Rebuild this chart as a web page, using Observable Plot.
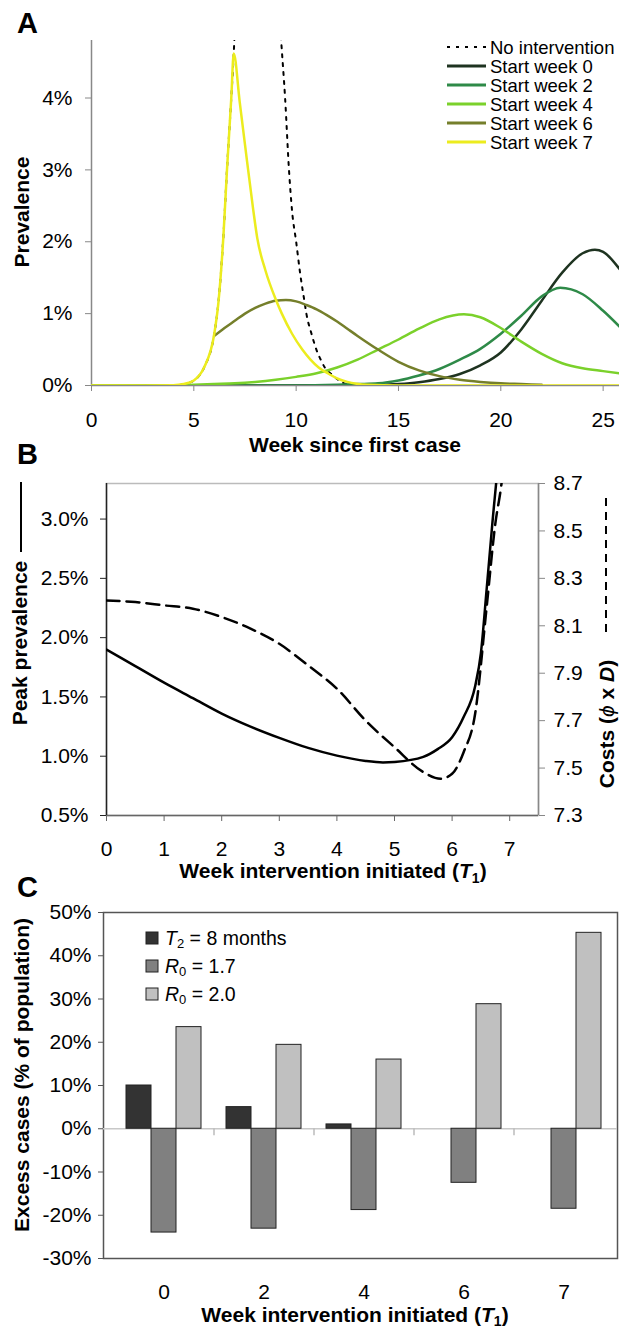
<!DOCTYPE html>
<html><head><meta charset="utf-8">
<script src="https://cdn.jsdelivr.net/npm/d3@7"></script>
<script src="https://cdn.jsdelivr.net/npm/@observablehq/plot@0.6"></script>
<style>
body{margin:0;background:#fff;}
#fig{position:relative;width:619px;height:1328px;overflow:hidden;background:#fff;}
#fig svg{position:absolute;left:0;}
</style></head>
<body><div id="fig"></div>
<script>
// ---------- Panel A data (prevalence, %) ----------
const seriesNamesA = ["No intervention","Start week 0","Start week 2","Start week 4","Start week 6","Start week 7"];
const weeksNoIntervention = [0,2,4,4.5,5,5.5,6,6.2,6.45,6.62,6.83,6.95,7.1,7.6,8.4,9.0,9.27,9.46,9.65,9.8,10,10.2,10.4,10.5,10.75,11,11.2,11.4,11.8,12,12.35,12.7,13.2];
const prevNoIntervention  = [0,0,0.005,0.02,0.07,0.25,0.72,1.15,2.1,3.0,4.0,4.62,5.6,7.2,7.6,6.0,4.79,4.0,3.0,2.43,2.0,1.55,1.18,1.0,0.72,0.49,0.36,0.25,0.14,0.09,0.03,0.01,0];
const weeksStart0 = [0,13,14,15,16,17,18,19,20,21,22,23,24,24.6,25,25.8];
const prevStart0  = [0,0,0.005,0.02,0.046,0.09,0.16,0.28,0.46,0.78,1.18,1.57,1.84,1.89,1.86,1.62];
const weeksStart2 = [0,10,12,13,14,15,16,17,18,19,20,21,22,22.9,24,25,25.8];
const prevStart2  = [0,0,0.01,0.02,0.03,0.07,0.14,0.23,0.36,0.51,0.72,0.97,1.24,1.36,1.27,1.04,0.82];
const weeksStart4 = [0,4,5,6,7,8,9,10,11,12,13,14,15,16,17,18.2,19,20,21,22,23,24,25,25.8];
const prevStart4  = [0,0,0.01,0.02,0.03,0.05,0.08,0.12,0.17,0.25,0.36,0.5,0.64,0.79,0.92,0.99,0.95,0.8,0.61,0.44,0.31,0.24,0.2,0.17];
const weeksStart6 = [6,6.5,7,7.5,8,8.5,9,9.5,10,10.5,11,11.5,12,12.5,13,14,15,16,17,18,19,20,21,22];
const prevStart6  = [0.69,0.8,0.9,1.0,1.08,1.14,1.18,1.19,1.17,1.12,1.06,0.98,0.89,0.79,0.69,0.5,0.33,0.21,0.13,0.08,0.05,0.03,0.02,0.01];
const weeksStart7 = [0,2,4,4.5,5,5.5,6,6.2,6.45,6.62,6.83,6.95,7.24,7.5,7.9,8.1,8.5,9.0,9.3,9.8,10.3,10.7,11.1,11.6,12,12.5,13.5,15,26];
const prevStart7  = [0,0,0.005,0.02,0.07,0.25,0.72,1.15,2.1,3.0,4.0,4.62,3.95,3.35,2.45,2.05,1.6,1.2,1.0,0.72,0.5,0.36,0.25,0.16,0.1,0.05,0.01,0,0];
const ticksA_x = [0,5,10,15,20,25];
const ticksA_y = [0,1,2,3,4];

// ---------- Panel B data ----------
const weeksPeak = [0,0.5,1,1.5,2,2.5,3,3.5,4,4.5,4.8,5,5.5,5.75,6,6.2,6.4,6.5,6.6,6.7,6.8,6.9];
const peakPrevalence = [1.9,1.76,1.62,1.49,1.36,1.25,1.155,1.07,1.005,0.96,0.948,0.952,0.995,1.06,1.16,1.33,1.59,1.87,2.41,2.97,3.5,4.2];
const weeksCost = [0,0.5,1,1.5,2,2.5,3,3.5,4,4.5,5,5.5,5.8,6,6.2,6.4,6.6,6.75,6.85,6.95];
const costs = [8.207,8.2,8.186,8.172,8.137,8.088,8.024,7.933,7.835,7.70,7.588,7.483,7.455,7.476,7.567,7.729,8.179,8.53,8.685,8.9];
const ticksB_x = [0,1,2,3,4,5,6,7];
const ticksB_left = [0.5,1.0,1.5,2.0,2.5,3.0];
const ticksB_right = [7.3,7.5,7.7,7.9,8.1,8.3,8.5,8.7];

// ---------- Panel C data (excess cases, % of population) ----------
const weeksC = ["0","2","4","6","7"];
const seriesC = ["T2 = 8 months","R0 = 1.7","R0 = 2.0"];
const excessT2 = [10, 5, 1, null, null];
const excessR017 = [-24, -23.1, -18.8, -12.5, -18.5];
const excessR020 = [23.5, 19.4, 16, 28.8, 45.3];
const ticksC_y = [-30,-20,-10,0,10,20,30,40,50];

// ---------- styles ----------
const FONT = "'Liberation Sans', Arial, Helvetica, sans-serif";
const TICK_FS = 21;
const colorsA = ["#000000","#1e3320","#2e8a48","#7bd12b","#757f2b","#ecec1e"];
const colorsC = ["#333333","#808080","#c0c0c0"];
const fig = document.getElementById("fig");
const baseStyle = {fontFamily: FONT, fontSize: TICK_FS + "px", color: "#000", background: "transparent"};

// ---------- Panel A ----------
const allWeeks = [weeksNoIntervention, weeksStart0, weeksStart2, weeksStart4, weeksStart6, weeksStart7];
const allPrev  = [prevNoIntervention, prevStart0, prevStart2, prevStart4, prevStart6, prevStart7];
const rowsA = [];
seriesNamesA.forEach((name, s) => allWeeks[s].forEach((w, i) => rowsA.push({series: name, week: w, prev: allPrev[s][i]})));

const plotA = Plot.plot({
  width: 619, height: 430,
  marginLeft: 91, marginRight: 0, marginTop: 40, marginBottom: 45,
  style: baseStyle,
  x: {domain: [0, 25.8]},
  y: {domain: [0, 4.8]},
  color: {domain: seriesNamesA, range: colorsA},
  marks: [
    Plot.ruleX([0], {stroke: "#888", strokeWidth: 1.5}),
    Plot.ruleY([0], {stroke: "#888", strokeWidth: 1.5}),
    Plot.axisX({ticks: ticksA_x, tickSize: 6, tickPadding: 21, stroke: "#888", label: null, fontSize: TICK_FS}),
    Plot.axisY({ticks: ticksA_y, tickFormat: d => d + "%", tickSize: 6, tickPadding: 13, stroke: "#888", label: null, fontSize: TICK_FS}),
    Plot.line(rowsA.filter(d => d.series === "No intervention"), {x: "week", y: "prev", stroke: "#000", strokeWidth: 2, strokeDasharray: "3,6", curve: "monotone-x", clip: true}),
    Plot.line(rowsA.filter(d => d.series !== "No intervention"), {x: "week", y: "prev", z: "series", stroke: "series", strokeWidth: 2.5, curve: "monotone-x", clip: true})
  ]
});
plotA.style.top = "0px";
fig.appendChild(plotA);

// ---------- Panel B ----------
const toPrev = c => 0.5 + (c - 7.3) * 2;     // cost axis -> prevalence axis
const fromPrev = p => 7.3 + (p - 0.5) / 2;
const rowsPeak = weeksPeak.map((w, i) => ({week: w, value: peakPrevalence[i]}));
const rowsCost = weeksCost.map((w, i) => ({week: w, cost: costs[i]}));

const plotB = Plot.plot({
  width: 619, height: 420,
  marginLeft: 106, marginRight: 81, marginTop: 33, marginBottom: 55,
  style: baseStyle,
  x: {domain: [0, 7.5]},
  y: {domain: [0.5, 3.3]},
  marks: [
    Plot.frame({stroke: "#bbb", strokeWidth: 1.5}),
    Plot.ruleX([7.5], {stroke: "#888", strokeWidth: 1.5}),
    Plot.ruleY([0.5], {stroke: "#666", strokeWidth: 1.5}),
    Plot.ruleX([0], {stroke: "#222", strokeWidth: 1.5}),
    Plot.axisX({ticks: ticksB_x, tickSize: 6, tickPadding: 20, stroke: "#666", label: null, fontSize: TICK_FS}),
    Plot.axisY({ticks: ticksB_left, tickFormat: d => d.toFixed(1) + "%", tickSize: 6, tickPadding: 12, stroke: "#222", label: null, fontSize: TICK_FS}),
    Plot.axisY(ticksB_right.map(toPrev), {anchor: "right", tickFormat: d => fromPrev(d).toFixed(1), tickSize: 6, tickPadding: 9, stroke: "#888", label: null, fontSize: TICK_FS}),
    Plot.line(rowsPeak, {x: "week", y: "value", stroke: "#000", strokeWidth: 2.5, curve: "monotone-x", clip: true}),
    Plot.line(rowsCost, {x: "week", y: d => toPrev(d.cost), stroke: "#000", strokeWidth: 2.5, strokeDasharray: "13,7", curve: "monotone-x", clip: true})
  ]
});
plotB.style.top = "450px";
fig.appendChild(plotB);

// ---------- Panel C ----------
const valuesC = [excessT2, excessR017, excessR020];
const keysC = [], gapKeys = [], midKeys = [];
weeksC.forEach((w, i) => {
  seriesC.forEach((s, j) => { keysC.push(w + "|" + s); if (j === 1) midKeys.push(w + "|" + s); });
  if (i < weeksC.length - 1) { keysC.push("gap" + i); gapKeys.push("gap" + i); }
});
const rowsC = [];
weeksC.forEach((w, i) => seriesC.forEach((s, j) => {
  const v = valuesC[j][i];
  if (v != null) rowsC.push({key: w + "|" + s, series: s, value: v});
}));

const plotC = Plot.plot({
  width: 619, height: 438,
  marginLeft: 103, marginRight: 2, marginTop: 22, marginBottom: 70,
  style: baseStyle,
  x: {type: "band", domain: keysC, range: [107, 619], paddingInner: 0, paddingOuter: 0.5},
  y: {domain: [-30, 50]},
  color: {domain: seriesC, range: colorsC},
  marks: [
    Plot.frame({stroke: "#555", strokeWidth: 1.5}),
    Plot.ruleY([0], {stroke: "#c8c8c8", strokeWidth: 1.5}),
    Plot.ruleX(gapKeys, {x: d => d, y1: 0, y2: -1.6, stroke: "#bbb", strokeWidth: 1.5}),
    Plot.barY(rowsC, {x: "key", y: "value", fill: "series", stroke: "#222", strokeWidth: 1}),
    Plot.axisY({ticks: ticksC_y, tickFormat: d => d + "%", tickSize: 5, tickPadding: 7, stroke: "#555", label: null, fontSize: TICK_FS}),
    Plot.axisX({ticks: midKeys, tickFormat: k => k.split("|")[0], tickSize: 0, tickPadding: 26, label: null, fontSize: TICK_FS})
  ]
});
plotC.style.top = "890px";
fig.appendChild(plotC);

// ---------- Overlay: panel letters, axis titles, legends ----------
const ov = d3.create("svg").attr("width", 619).attr("height", 1328)
  .style("top", "0px").style("pointer-events", "none")
  .attr("font-family", FONT);

function txt(x, y, html, opts = {}) {
  const t = ov.append("text").attr("x", x).attr("y", y).html(html)
    .attr("font-size", opts.size || 21).attr("font-weight", opts.weight || "bold")
    .attr("text-anchor", opts.anchor || "middle").attr("fill", "#000");
  if (opts.central) t.attr("dominant-baseline", "central");
  return t;
}
function rot(x, y, html, opts = {}) {
  ov.append("text").attr("transform", `translate(${x},${y}) rotate(-90)`).html(html)
    .attr("font-size", opts.size || 21).attr("font-weight", "bold")
    .attr("text-anchor", "middle").attr("dominant-baseline", "central").attr("fill", "#000");
}
// letters
txt(17, 33, "A", {size: 29, anchor: "start"});
txt(17, 464, "B", {size: 29, anchor: "start"});
txt(17, 897, "C", {size: 29, anchor: "start"});
// Panel A titles
txt(355, 452, "Week since first case");
rot(21, 212, "Prevalence");
// Panel B titles
txt(333, 878, 'Week intervention initiated (<tspan font-style="italic">T</tspan><tspan font-size="14" dy="5">1</tspan><tspan dy="-5">)</tspan>');
rot(19, 643, "Peak prevalence");
ov.append("line").attr("x1", 21).attr("x2", 21).attr("y1", 482).attr("y2", 552).attr("stroke", "#000").attr("stroke-width", 2);
rot(606, 724, 'Costs (<tspan font-style="italic" font-weight="normal">ϕ</tspan> x <tspan font-style="italic">D</tspan>)');
ov.append("line").attr("x1", 606).attr("x2", 606).attr("y1", 498).attr("y2", 632).attr("stroke", "#000").attr("stroke-width", 2).attr("stroke-dasharray", "8,6");
// Panel C titles
txt(355, 1322, 'Week intervention initiated (<tspan font-style="italic">T</tspan><tspan font-size="14" dy="4">1</tspan><tspan dy="-4">)</tspan>');
rot(21, 1075, "Excess cases (% of population)");

// Panel A legend
const legRowsA = [47, 66, 85, 104, 123, 142];
seriesNamesA.forEach((name, i) => {
  const l = ov.append("line").attr("x1", 447).attr("x2", 486).attr("y1", legRowsA[i]).attr("y2", legRowsA[i])
    .attr("stroke", colorsA[i]).attr("stroke-width", i === 0 ? 2 : 3);
  if (i === 0) l.attr("stroke-dasharray", "3,6");
  txt(490, legRowsA[i], name, {size: 18.5, weight: "normal", anchor: "start", central: true});
});

// Panel C legend
const legRowsC = [938, 966, 994];
const legLabelsC = [
  '<tspan font-style="italic">T</tspan><tspan font-size="13" dy="5">2</tspan><tspan dy="-5"> = 8 months</tspan>',
  '<tspan font-style="italic">R</tspan><tspan font-size="13" dy="5">0</tspan><tspan dy="-5"> = 1.7</tspan>',
  '<tspan font-style="italic">R</tspan><tspan font-size="13" dy="5">0</tspan><tspan dy="-5"> = 2.0</tspan>'
];
seriesC.forEach((s, i) => {
  ov.append("rect").attr("x", 146).attr("y", legRowsC[i] - 6).attr("width", 12).attr("height", 12)
    .attr("fill", colorsC[i]).attr("stroke", "#222").attr("stroke-width", 1);
  txt(165, legRowsC[i], legLabelsC[i], {size: 19.5, weight: "normal", anchor: "start", central: true});
});
fig.appendChild(ov.node());
</script>
</body></html>
